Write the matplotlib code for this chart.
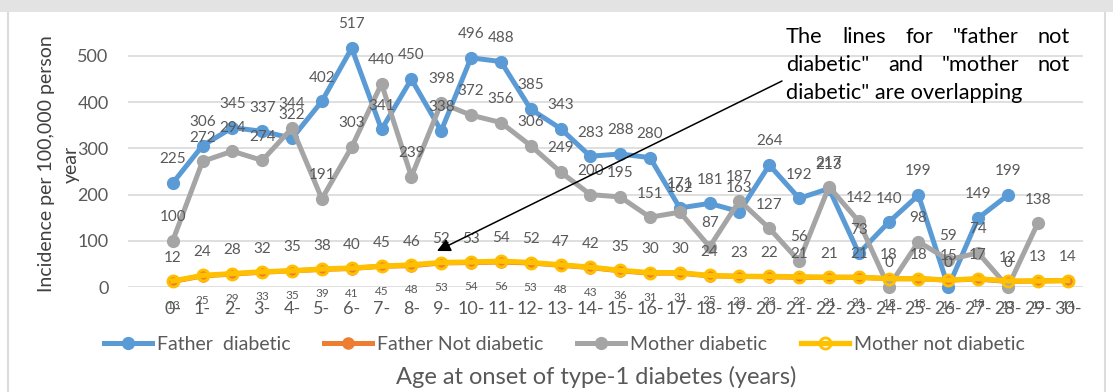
import matplotlib
matplotlib.use("Agg")
import matplotlib.pyplot as plt
from matplotlib.patches import Rectangle
from matplotlib.lines import Line2D
from matplotlib.transforms import IdentityTransform
import numpy as np

plt.rcParams['font.family'] = ['Lato', 'DejaVu Sans']

# Age groups at onset of type-1 diabetes
ages = [f"{i}-" for i in range(31)]

# Incidence per 100,000 person-years by parental diabetes status
father_diabetic = [225, 306, 345, 337, 322, 402, 517, 341, 450, 338, 496, 488, 385,
                   343, 283, 288, 280, 171, 181, 163, 264, 192, 213, 73, 140, 199,
                   0, 149, 199, None, None]
father_not_diabetic = [12, 24, 28, 32, 35, 38, 40, 45, 46, 52, 53, 54, 52, 47, 42, 35,
                       30, 30, 24, 23, 22, 21, 21, 21, 18, 18, 15, 17, 12, 13, 14]
mother_diabetic = [100, 272, 294, 274, 344, 191, 303, 440, 239, 398, 372, 356, 306,
                   249, 200, 195, 151, 162, 87, 187, 127, 56, 217, 142, 0, 98, 59,
                   74, 0, 138, None]
mother_not_diabetic = [13, 25, 29, 33, 35, 39, 41, 45, 48, 53, 54, 56, 53, 48, 43, 36,
                       31, 31, 25, 23, 23, 22, 21, 21, 18, 18, 15, 18, 13, 13, 14]

W, H = 1113, 392
fig = plt.figure(figsize=(W / 100, H / 100), dpi=100)
fig.patch.set_facecolor('white')

LABEL = '#595959'
BLUE, ORANGE, GRAY, GOLD = '#5B9BD5', '#ED7D31', '#A5A5A5', '#FFC000'

# plot area placed in pixel terms
x0, x1 = 128, 1082.5
y_zero, px_per_100 = 287, 46.2
ax = fig.add_axes([x0 / W, (H - y_zero) / H, (x1 - x0) / W, 6 * px_per_100 / H])
ax.set_xlim(-1.5, 30.5)
ax.set_ylim(0, 600)
ax.set_yticks(range(0, 501, 100))
ax.set_xticks(range(len(ages)))
ax.set_xticklabels(ages)
for s in ax.spines.values():
    s.set_visible(False)
ax.tick_params(length=0, labelsize=13, colors=LABEL)
ax.tick_params(axis='x', pad=10)
ax.tick_params(axis='y', pad=14)
ax.grid(axis='y', color='#d9d9d9', lw=1.2)
ax.set_axisbelow(True)
ax.patch.set_alpha(0)


def as_array(vals):
    return np.array([np.nan if v is None else v for v in vals], dtype=float)


x = np.arange(len(ages))
series = [
    ("Father  diabetic", father_diabetic, dict(color=BLUE, lw=3.6, marker='o', ms=8.5,
                                               mfc=BLUE, mec=BLUE)),
    ("Father Not diabetic", father_not_diabetic, dict(color=ORANGE, lw=3.6, marker='o',
                                                      ms=8, mfc=ORANGE, mec=ORANGE)),
    ("Mother diabetic", mother_diabetic, dict(color=GRAY, lw=3.6, marker='o', ms=8.5,
                                              mfc=GRAY, mec=GRAY)),
    ("Mother not diabetic", mother_not_diabetic, dict(color=GOLD, lw=3.8, marker='o',
                                                      ms=8, mfc='none', mec=GOLD, mew=2)),
]

handles = []
for z, (name, vals, style) in enumerate(series):
    y = as_array(vals)
    ln, = ax.plot(x, y, zorder=3 + z, clip_on=False, **style)
    handles.append(ln)

# value labels
for vals in (father_diabetic, father_not_diabetic, mother_diabetic):
    for i, v in enumerate(vals):
        if v is None:
            continue
        ax.annotate(str(v), (i, v), xytext=(0, 12), textcoords='offset points',
                    ha='center', va='bottom', fontsize=11, color=LABEL,
                    annotation_clip=False, zorder=10)
for i, v in enumerate(mother_not_diabetic):
    ax.annotate(str(v), (i, v), xytext=(0, -14), textcoords='offset points',
                ha='center', va='top', fontsize=8.5, color=LABEL,
                annotation_clip=False, zorder=10)

fig.legend(handles, [s[0] for s in series], loc='center left',
           bbox_to_anchor=(104 / W, (H - 344) / H), ncol=4, frameon=False,
           fontsize=14, handlelength=2.45, handletextpad=0.26, columnspacing=1.75,
           borderpad=0, borderaxespad=0, labelcolor=LABEL)

fig.text(59 / W, (H - 164) / H, "Incidence per 100,000 person\nyear", rotation=90,
         ha='center', va='center', fontsize=14, color='#404040', linespacing=1.6,
         multialignment='center')
fig.text(596 / W, (H - 377) / H, "Age at onset of type-1 diabetes (years)",
         ha='center', va='center', fontsize=17, color=LABEL)

# justified note text
renderer = fig.canvas.get_renderer()
note_left, note_right = 786, 1070
note_lines = [["The", "lines", "for", "\"father", "not"],
              ["diabetic\"", "and", "\"mother", "not"]]
note_kw = dict(fontsize=15.7, color='black', transform=IdentityTransform(),
               ha='left', va='baseline')
baselines = [H - 43, H - 71, H - 99]
for words, yb in zip(note_lines, baselines):
    texts = [fig.text(0, yb, w, **note_kw) for w in words]
    widths = [t.get_window_extent(renderer).width for t in texts]
    gap = (note_right - note_left - sum(widths)) / (len(words) - 1)
    pos = note_left
    for t, w in zip(texts, widths):
        t.set_x(pos)
        pos += w + gap
fig.text(note_left, baselines[2], "diabetic\" are overlapping", **note_kw)

ax.annotate('', xy=(437, H - 251), xycoords='figure pixels',
            xytext=(782, H - 81), textcoords='figure pixels',
            arrowprops=dict(arrowstyle='-|>', color='black', lw=1.1,
                            mutation_scale=20, shrinkA=0, shrinkB=0), zorder=12)

# frame decorations
fig.patches.append(Rectangle((0, (H - 12) / H), 1, 12 / H, transform=fig.transFigure,
                             facecolor='#e3e3e3', edgecolor='none', zorder=20))
fig.lines.append(Line2D([8 / W, 8 / W], [0, (H - 12) / H], transform=fig.transFigure,
                        color='#dcdcdc', lw=1.5, zorder=20))
fig.lines.append(Line2D([1105 / W, 1105 / W], [0, (H - 12) / H],
                        transform=fig.transFigure, color='#dcdcdc', lw=1.5, zorder=20))

fig.savefig('out.png', dpi=100)
